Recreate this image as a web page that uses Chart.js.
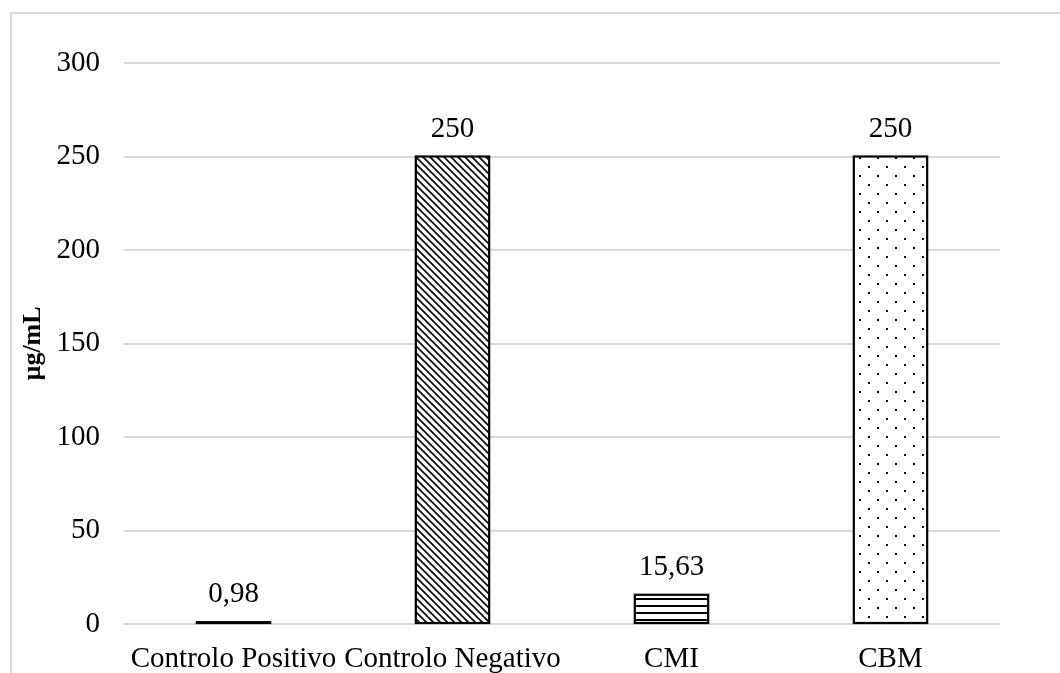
<!DOCTYPE html>
<html>
<head>
<meta charset="utf-8">
<script src="https://cdn.jsdelivr.net/npm/chart.js@4"></script>
<style>
  html, body { margin: 0; padding: 0; background: #fff; overflow: hidden; }
  #frame { position: absolute; left: 10px; top: 12px; width: 1100px; height: 720px; border: 2px solid #d9d9d9; box-sizing: border-box; }
  #wrap { position: absolute; left: 0; top: 0; width: 1060px; height: 673px; }
</style>
</head>
<body>
<div id="frame"></div>
<div id="wrap"><canvas id="c" width="1060" height="673"></canvas></div>
<script>
// Categories and measured concentrations (µg/mL)
const categories = ['Controlo Positivo', 'Controlo Negativo', 'CMI', 'CBM'];
const values = [0.98, 250, 15.63, 250];
const yTicks = [0, 50, 100, 150, 200, 250, 300];
const axisTitle = 'µg/mL';

const FONT = '"Liberation Serif", "Times New Roman", serif';

// Fill patterns for the bars
function makeTile(w, h, draw) {
  const t = document.createElement('canvas');
  t.width = w; t.height = h;
  const g = t.getContext('2d');
  g.fillStyle = '#fff';
  g.fillRect(0, 0, w, h);
  draw(g, w, h);
  return document.getElementById('c').getContext('2d').createPattern(t, 'repeat');
}
const diagonal = makeTile(7, 7, (g, w, h) => {
  g.strokeStyle = '#000';
  g.lineWidth = 1.6;
  g.beginPath();
  g.moveTo(-1, -1); g.lineTo(w + 1, h + 1);
  g.moveTo(w - 1, -1); g.lineTo(w + 1, 1);
  g.moveTo(-1, h - 1); g.lineTo(1, h + 1);
  g.stroke();
});
const horizontal = makeTile(8, 7, (g, w) => {
  g.fillStyle = '#000';
  g.fillRect(0, 3, w, 2);
});
const dots = makeTile(18, 18, (g) => {
  g.fillStyle = '#000';
  g.fillRect(4, 4, 2, 2);
  g.fillRect(13, 13, 2, 2);
});
const fills = ['#000', diagonal, horizontal, dots];

// Outline each bar on its edges, then print its value above it
const barDecor = {
  id: 'barDecor',
  afterDatasetsDraw(chart) {
    const ctx = chart.ctx;
    const meta = chart.getDatasetMeta(0);
    ctx.save();
    ctx.strokeStyle = '#000';
    ctx.lineWidth = 2.2;
    meta.data.forEach((bar) => {
      const p = bar.getProps(['x', 'y', 'base', 'width'], true);
      ctx.strokeRect(p.x - p.width / 2, p.y, p.width, p.base - p.y);
    });
    ctx.font = '29px ' + FONT;
    ctx.fillStyle = '#000';
    ctx.textAlign = 'center';
    ctx.textBaseline = 'alphabetic';
    meta.data.forEach((bar, i) => {
      const txt = String(values[i]).replace('.', ',');
      ctx.fillText(txt, bar.x, bar.y - 20);
    });
    ctx.restore();
  }
};

new Chart(document.getElementById('c'), {
  type: 'bar',
  data: {
    labels: categories,
    datasets: [{
      data: values,
      backgroundColor: fills,
      borderWidth: 0,
      categoryPercentage: 1,
      barPercentage: 0.335
    }]
  },
  options: {
    responsive: false,
    animation: false,
    devicePixelRatio: 1,
    layout: { padding: { top: 63, right: 60, left: 0, bottom: 0 } },
    plugins: { legend: { display: false }, tooltip: { enabled: false } },
    scales: {
      x: {
        grid: { display: false },
        border: { display: false },
        ticks: {
          color: '#000',
          font: { family: FONT, size: 29 },
          padding: 10,
          maxRotation: 0,
          autoSkip: false
        },
        afterFit(s) { s.height = 49; }
      },
      y: {
        min: 0,
        max: 300,
        afterBuildTicks(s) { s.ticks = yTicks.map(v => ({ value: v })); },
        grid: { color: '#d9d9d9', lineWidth: 2, drawTicks: false },
        border: { display: false },
        ticks: {
          color: '#000',
          font: { family: FONT, size: 29 },
          padding: 24
        },
        title: {
          display: true,
          text: axisTitle,
          color: '#000',
          font: { family: FONT, size: 26, weight: 'bold' },
          padding: { top: 18, bottom: 0 }
        },
        afterFit(s) { s.width = 124; }
      }
    }
  },
  plugins: [barDecor]
});
</script>
</body>
</html>
